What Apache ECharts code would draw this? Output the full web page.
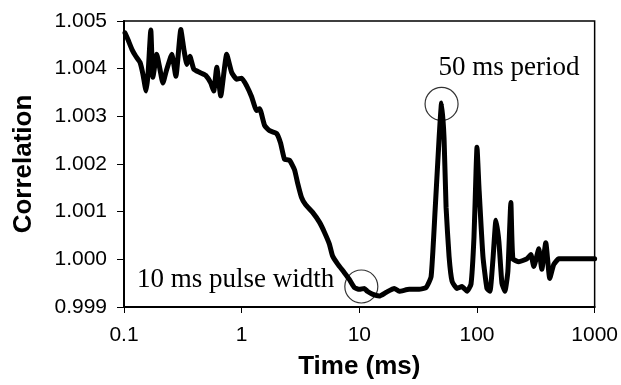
<!DOCTYPE html>
<html>
<head>
<meta charset="utf-8">
<script src="https://cdn.jsdelivr.net/npm/echarts@6/dist/echarts.min.js"></script>
<style>
html,body{margin:0;padding:0;background:#fff;}
#chart{width:621px;height:385px;}
</style>
</head>
<body>
<div id="chart"></div>
<script>
// Time values (ms)
const timeMs = [
  0.102, 0.108, 0.117, 0.126, 0.137, 0.145, 0.154, 0.160, 0.169, 0.176,
  0.190, 0.202, 0.214, 0.231, 0.255, 0.276, 0.304, 0.323, 0.342, 0.363,
  0.392, 0.441, 0.495, 0.546, 0.579, 0.614, 0.664, 0.746, 0.823, 0.907,
  1.000, 1.103, 1.215, 1.340, 1.421, 1.566, 1.727, 1.980, 2.141, 2.314,
  2.552, 2.813, 2.983, 3.225, 3.487, 3.996, 4.581, 5.050, 5.568, 5.904,
  6.511, 7.464, 8.227, 9.070, 10.0, 11.03, 11.69, 12.89, 14.77, 16.94,
  19.81, 21.83, 26.53, 32.25, 36.97, 40.76, 44.07, 47.64, 50.0, 52.5,
  54.62, 57.91, 61.40, 67.70, 74.63, 82.27, 88.97, 94.32, 98.06, 100,
  104.0, 112.4, 121.5, 128.9, 136.6, 144.9, 153.6, 162.9, 172.7, 183.1,
  194.1, 201.9, 227.0, 265.3, 286.8, 304.2, 335.4, 355.6, 384.4, 415.5,
  449.3, 495.3, 663.7, 1000
];
// Correlation values
const correlation = [
  1.00475, 1.00461, 1.00440, 1.00426, 1.00413, 1.00388, 1.00353, 1.00388, 1.00481, 1.00382,
  1.00430, 1.00399, 1.00370, 1.00399, 1.00430, 1.00384, 1.00482, 1.00440, 1.00409, 1.00426,
  1.00399, 1.00392, 1.00386, 1.00370, 1.00353, 1.00403, 1.00343, 1.00430, 1.00392, 1.00378,
  1.00380, 1.00364, 1.00341, 1.00312, 1.00316, 1.00281, 1.00270, 1.00264, 1.00244, 1.00210,
  1.00208, 1.00188, 1.00161, 1.00130, 1.00115, 1.00099, 1.00078, 1.00057, 1.00032, 1.00008,
  0.99991, 0.99972, 0.99958, 0.99941, 0.99937, 0.99939, 0.99933, 0.99927, 0.99923, 0.99931,
  0.99939, 0.99933, 0.99937, 0.99937, 0.99941, 0.99964, 1.00103, 1.00254, 1.00328, 1.00254,
  1.00109, 1.00006, 0.99954, 0.99939, 0.99943, 0.99933, 0.99948, 1.00047, 1.00181, 1.00235,
  1.00150, 1.00006, 0.99939, 0.99933, 0.99999, 1.00082, 1.00037, 0.99950, 0.99933, 0.99975,
  1.00119, 1.00001, 0.99995, 1.00001, 1.00010, 0.99985, 1.00022, 0.99979, 1.00035, 0.99960,
  0.99989, 1.00001, 1.00001, 1.00001
];
// Axis tick labels
const xTickValues = [0.1, 1, 10, 100, 1000];
const xTickLabels = ['0.1', '1', '10', '100', '1000'];
const yMin = 0.999, yMax = 1.005, yStep = 0.001;
// Annotation circles (time, correlation) and texts
const circleTime = [10.4, 50];
const circleCorr = [0.99943, 1.00326];
const annotationText = ['10 ms pulse width', '50 ms period'];

const chart = echarts.init(document.getElementById('chart'), null, {renderer: 'canvas'});
const lineData = timeMs.map((t, i) => [t, correlation[i]]);
const circleData = circleTime.map((t, i) => [t, circleCorr[i]]);

function xLabel(v) {
  for (let i = 0; i < xTickValues.length; i++) {
    if (Math.abs(Math.log10(v) - Math.log10(xTickValues[i])) < 1e-6) return xTickLabels[i];
  }
  return '';
}

chart.setOption({
  animation: false,
  backgroundColor: '#fff',
  grid: {left: 124, right: 26, top: 21, bottom: 74, show: true, borderColor: '#000', borderWidth: 1.5},
  xAxis: {
    type: 'log', logBase: 10, min: 0.1, max: 1000,
    name: 'Time (ms)', nameLocation: 'middle', nameGap: 47,
    nameTextStyle: {fontFamily: 'Liberation Sans', fontWeight: 'bold', fontSize: 26, color: '#000'},
    axisLine: {lineStyle: {color: '#000', width: 2}},
    axisTick: {show: true, length: 6, lineStyle: {color: '#000', width: 1}},
    minorTick: {show: false},
    splitLine: {show: false},
    axisLabel: {formatter: xLabel, fontFamily: 'Liberation Sans', fontSize: 21, color: '#000', margin: 18}
  },
  yAxis: {
    type: 'value', min: yMin, max: yMax, interval: yStep,
    name: 'Correlation', nameLocation: 'middle', nameGap: 87,
    nameTextStyle: {fontFamily: 'Liberation Sans', fontWeight: 'bold', fontSize: 26, color: '#000'},
    axisLine: {show: true, lineStyle: {color: '#000', width: 2}},
    axisTick: {show: true, length: 7, lineStyle: {color: '#000', width: 1}},
    splitLine: {show: false},
    axisLabel: {formatter: v => v.toFixed(3), fontFamily: 'Liberation Sans', fontSize: 21, color: '#000', margin: 17}
  },
  series: [
    {
      type: 'line', data: lineData, showSymbol: false, smooth: 0.15,
      lineStyle: {color: '#000', width: 5, join: 'round', cap: 'round'},
      z: 3
    },
    {
      type: 'scatter', data: circleData, symbol: 'circle', symbolSize: 33,
      itemStyle: {color: 'rgba(0,0,0,0)', borderColor: '#000', borderWidth: 1.2},
      z: 4
    }
  ]
});

const p0 = chart.convertToPixel({gridIndex: 0}, circleData[0]);
const p1 = chart.convertToPixel({gridIndex: 0}, circleData[1]);
chart.setOption({
  graphic: [
    {type: 'text', x: p0[0] - 27, y: p0[1] - 7, z: 10,
     style: {text: annotationText[0], font: '27px "Liberation Serif"', fill: '#000', textAlign: 'right', textVerticalAlign: 'middle'}},
    {type: 'text', x: p1[0] - 3, y: p1[1] - 36, z: 10,
     style: {text: annotationText[1], font: '27px "Liberation Serif"', fill: '#000', textAlign: 'left', textVerticalAlign: 'middle'}}
  ]
});
</script>
</body>
</html>
